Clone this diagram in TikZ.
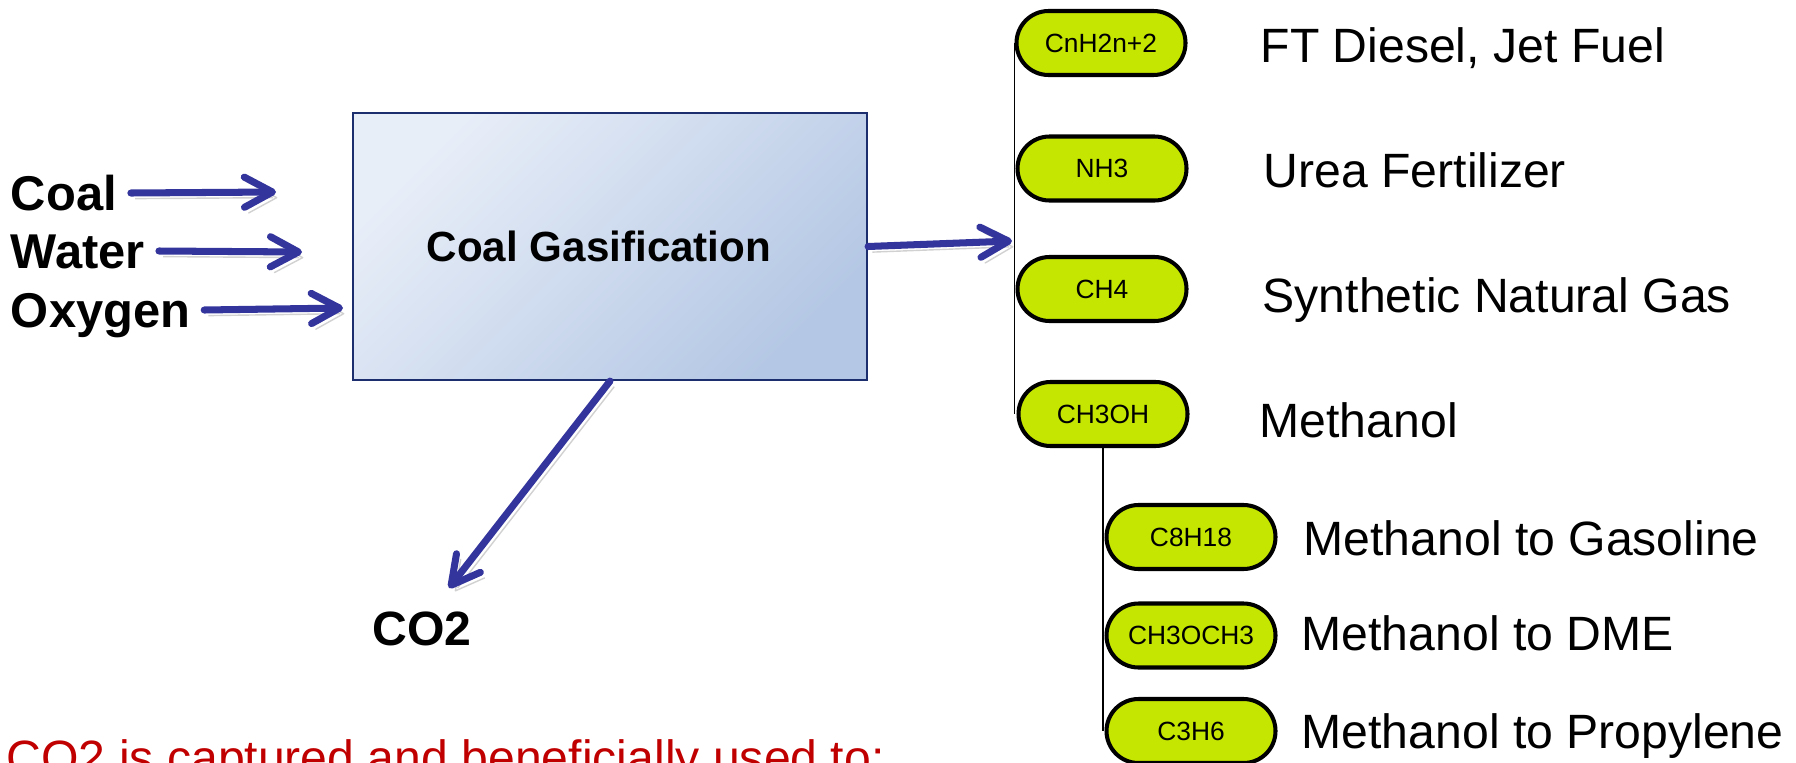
\documentclass[tikz,border=0pt]{standalone}
\usepackage{fontspec}
\setmainfont{Liberation Sans}
\usepackage{tikz}
\usetikzlibrary{positioning}
\usetikzlibrary{arrows.meta}

\definecolor{arrowblue}{RGB}{52,53,156}
\definecolor{boxlight}{RGB}{232,238,248}
\definecolor{boxdark}{RGB}{180,199,228}
\definecolor{boxline}{RGB}{28,46,110}
\definecolor{pillgreen}{RGB}{197,230,0}
\definecolor{notered}{RGB}{192,0,0}

\begin{document}
\begin{tikzpicture}[
                % Define styles for nodes
                input/.style={inner sep=0pt, outer sep=0.14cm, anchor=base west, text height=0.34cm, text depth=0pt, font=\fontsize{13.9pt}{16pt}\selectfont\bfseries},
                process/.style={rectangle, draw=boxline, line width=0.6pt, top color=boxlight, bottom color=boxdark, shading angle=45, minimum width=5.14cm, minimum height=2.67cm, inner sep=0pt, font=\fontsize{12pt}{14pt}\selectfont\bfseries},
                pill/.style={rectangle, rounded corners=0.32cm, draw=black, line width=1.15pt, fill=pillgreen, minimum width=1.69cm, minimum height=0.64cm, inner sep=0pt, font=\fontsize{7.5pt}{9pt}\selectfont},
                product/.style={inner sep=0pt, anchor=base west, font=\fontsize{13.7pt}{16pt}\selectfont},
                flow/.style={draw=arrowblue, line width=2pt, line cap=round, -{Straight Barb[length=8pt,width=8.6pt,round]},
                    preaction={draw=black!18, transform canvas={shift={(1.2pt,-1.6pt)}}}},
                bus/.style={draw=black, line width=0.5pt}
            ]
                \useasboundingbox (0,0) rectangle (17.96,-7.62);

                % Define nodes
                \node[input] (coal) at (-0.03,-2.10) {Coal};
                \node[input] (water) at (-0.03,-2.68) {Water};
                \node[input] (oxygen) at (-0.03,-3.27) {Oxygen};

                \node[process] (gasifier) at (6.10,-2.465) {Coal Gasification\hspace*{0.22cm}};

                \node[pill] (cnh) at (11.01,-0.43) {CnH2n+2};
                \node[pill] (nh3) at (11.02,-1.685) {NH3};
                \node[pill] (ch4) at (11.02,-2.89) {CH4};
                \node[pill] (ch3oh) at (11.03,-4.14) {CH3OH};

                \node[pill] (c8h18) at (11.91,-5.37) {C8H18};
                \node[pill] (dme) at (11.91,-6.355) {CH3OCH3};
                \node[pill] (c3h6) at (11.91,-7.31) {C3H6};

                \node[product] (ft) at (12.60,-0.62) {FT Diesel, Jet Fuel};
                \node[product] (urea) at (12.63,-1.87) {Urea Fertilizer};
                \node[product] (sng) at (12.62,-3.12) {Synthetic Natural Gas};
                \node[product] (methanol) at (12.59,-4.37) {Methanol};
                \node[product] (mtg) at (13.03,-5.55) {Methanol to Gasoline};
                \node[product] (mtd) at (13.01,-6.50) {Methanol to DME};
                \node[product] (mtp) at (13.01,-7.48) {Methanol to Propylene};

                \node[product, font=\fontsize{13.7pt}{16pt}\selectfont\bfseries] (co2) at (3.72,-6.45) {CO2};
                \node[product, text=notered] (note) at (0.06,-7.74) {CO2 is captured and beneficially used to:};

                % Free ends of the arrows
                \coordinate (coal end) at (2.76,-1.92);
                \coordinate (water end) at (3.02,-2.52);
                \coordinate (oxygen end) at (3.43,-3.08);
                \coordinate (bus in) at (10.12,-2.41);
                \coordinate (co2 in) at (4.49,-5.88);

                % Feeds into the gasifier
                \draw[flow] (coal.east) -- (coal end);
                \draw[flow] (water.east) -- (water end);
                \draw[flow] (oxygen.east) -- (oxygen end);

                % Syngas out and CO2 out
                \draw[flow] (gasifier.east) -- (bus in);
                \draw[flow] (gasifier.south) -- (co2 in);

                % Product lines
                \draw[bus] (cnh.west) -- (cnh.west |- ch3oh.west);
                \draw[bus] (ch3oh.south) -- (ch3oh.south |- c3h6.west);
            \end{tikzpicture}
\end{document}
